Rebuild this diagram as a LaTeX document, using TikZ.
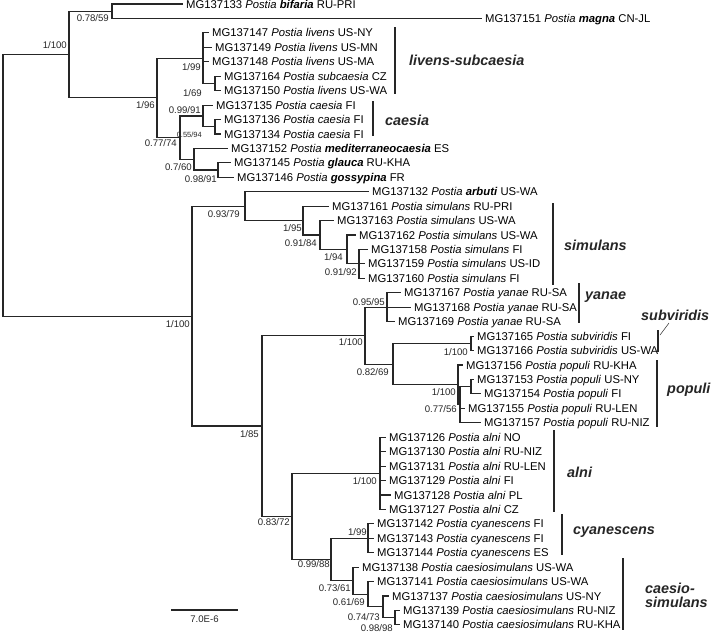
\documentclass[tikz,border=0pt]{standalone}
\usepackage{fontspec}
\setmainfont{Liberation Sans}
\usetikzlibrary{positioning}
\newcommand\leaffont{\fontsize{11.3}{13}\selectfont}
\newcommand\supfont{\fontsize{9.6}{11}\selectfont}
\newcommand\tinyfont{\fontsize{7.5}{9}\selectfont}
\newcommand\cladefont{\fontsize{14.4}{16}\selectfont\bfseries\itshape}
\newcommand\Po{\textit{Postia}}
\newcommand\spn[1]{\textit{#1}}
\newcommand\nspn[1]{\textbf{\textit{#1}}}
\tikzset{
  br/.style={line width=1.1pt,black!85},
  elbow/.style={to path={|- (\tikztotarget)}},
  leaf/.style={anchor=west,inner xsep=3pt,inner ysep=0pt,text height=10pt,text depth=2pt,font=\leaffont},
  sup/.style={anchor=east,inner sep=0pt,font=\supfont,black!85},
  clade/.style={anchor=west,inner sep=0pt,font=\cladefont,black!85},
  cbar/.style={line width=2.6pt,black!85},
}
\begin{document}
\begin{tikzpicture}[x=1pt,y=-1pt]
\useasboundingbox (0,0) rectangle (711,633);
% internal nodes
\coordinate (R) at (3,185.3);
\coordinate (T) at (69,54.5);
\coordinate (A) at (112,11.2);
\coordinate (B) at (157,97.9);
\coordinate (L) at (203,58.2);
\coordinate (L2) at (215,83.4);
\coordinate (C) at (180,137.6);
\coordinate (D) at (203,116);
\coordinate (D2) at (215,126.8);
\coordinate (E) at (194,159.2);
\coordinate (E2) at (218,170);
\coordinate (N100) at (192,316.1);
\coordinate (G) at (245,206.2);
\coordinate (S1) at (303,220.6);
\coordinate (S2) at (320,235);
\coordinate (S3) at (347,249.5);
\coordinate (S4) at (359,263.9);
\coordinate (N85) at (262,426);
\coordinate (YSP) at (365,335.7);
\coordinate (Y) at (387,307.2);
\coordinate (SP) at (393,364.2);
\coordinate (SV) at (471,343.4);
\coordinate (P1) at (458,384.9);
\coordinate (P2) at (460,404.7);
\coordinate (P3) at (471,386.7);
\coordinate (ALC) at (292,516.4);
\coordinate (AL) at (380,473.3);
\coordinate (CC) at (331,559.5);
\coordinate (CY) at (368,538.3);
\coordinate (CS1) at (353,580.7);
\coordinate (CS2) at (368,594.3);
\coordinate (CS3) at (383,606.9);
\coordinate (CS4) at (395,617.7);
% leaves
\node[leaf] (l133) at (183,4) {MG137133 \Po\ \nspn{bifaria} RU-PRI};
\node[leaf] (l151) at (482,18.4) {MG137151 \Po\ \nspn{magna} CN-JL};
\node[leaf] (l147) at (209,32.9) {MG137147 \Po\ \spn{livens} US-NY};
\node[leaf] (l149) at (212,47.3) {MG137149 \Po\ \spn{livens} US-MN};
\node[leaf] (l148) at (209,61.8) {MG137148 \Po\ \spn{livens} US-MA};
\node[leaf] (l164) at (221,76.2) {MG137164 \Po\ \spn{subcaesia} CZ};
\node[leaf] (l150) at (221,90.6) {MG137150 \Po\ \spn{livens} US-WA};
\node[leaf] (l135) at (213,105.1) {MG137135 \Po\ \spn{caesia} FI};
\node[leaf] (l136) at (221,119.5) {MG137136 \Po\ \spn{caesia} FI};
\node[leaf] (l134) at (221,134) {MG137134 \Po\ \spn{caesia} FI};
\node[leaf] (l152) at (228,148.4) {MG137152 \Po\ \nspn{mediterraneocaesia} ES};
\node[leaf] (l145) at (231,162.8) {MG137145 \Po\ \nspn{glauca} RU-KHA};
\node[leaf] (l146) at (234,177.3) {MG137146 \Po\ \nspn{gossypina} FR};
\node[leaf] (l132) at (369,191.7) {MG137132 \Po\ \nspn{arbuti} US-WA};
\node[leaf] (l161) at (329,206.2) {MG137161 \Po\ \spn{simulans} RU-PRI};
\node[leaf] (l163) at (334,220.6) {MG137163 \Po\ \spn{simulans} US-WA};
\node[leaf] (l162) at (356,235) {MG137162 \Po\ \spn{simulans} US-WA};
\node[leaf] (l158) at (368,249.5) {MG137158 \Po\ \spn{simulans} FI};
\node[leaf] (l159) at (365,263.9) {MG137159 \Po\ \spn{simulans} US-ID};
\node[leaf] (l160) at (365,278.4) {MG137160 \Po\ \spn{simulans} FI};
\node[leaf] (l167) at (401,292.8) {MG137167 \Po\ \spn{yanae} RU-SA};
\node[leaf] (l168) at (411,307.2) {MG137168 \Po\ \spn{yanae} RU-SA};
\node[leaf] (l169) at (395,321.7) {MG137169 \Po\ \spn{yanae} RU-SA};
\node[leaf] (l165) at (474,336.1) {MG137165 \Po\ \spn{subviridis} FI};
\node[leaf] (l166) at (474,350.6) {MG137166 \Po\ \spn{subviridis} US-WA};
\node[leaf] (l156) at (463,365) {MG137156 \Po\ \spn{populi} RU-KHA};
\node[leaf] (l153) at (474,379.4) {MG137153 \Po\ \spn{populi} US-NY};
\node[leaf] (l154) at (481,393.9) {MG137154 \Po\ \spn{populi} FI};
\node[leaf] (l155) at (465,408.3) {MG137155 \Po\ \spn{populi} RU-LEN};
\node[leaf] (l157) at (481,422.8) {MG137157 \Po\ \spn{populi} RU-NIZ};
\node[leaf] (l126) at (386,437.2) {MG137126 \Po\ \spn{alni} NO};
\node[leaf] (l130) at (386,451.6) {MG137130 \Po\ \spn{alni} RU-NIZ};
\node[leaf] (l131) at (386,466.1) {MG137131 \Po\ \spn{alni} RU-LEN};
\node[leaf] (l129) at (386,480.5) {MG137129 \Po\ \spn{alni} FI};
\node[leaf] (l128) at (391,495) {MG137128 \Po\ \spn{alni} PL};
\node[leaf] (l127) at (386,509.4) {MG137127 \Po\ \spn{alni} CZ};
\node[leaf] (l142) at (374,523.8) {MG137142 \Po\ \spn{cyanescens} FI};
\node[leaf] (l143) at (374,538.3) {MG137143 \Po\ \spn{cyanescens} FI};
\node[leaf] (l144) at (374,552.7) {MG137144 \Po\ \spn{cyanescens} ES};
\node[leaf] (l138) at (359,567.2) {MG137138 \Po\ \spn{caesiosimulans} US-WA};
\node[leaf] (l141) at (374,581.6) {MG137141 \Po\ \spn{caesiosimulans} US-WA};
\node[leaf] (l137) at (389,596) {MG137137 \Po\ \spn{caesiosimulans} US-NY};
\node[leaf] (l139) at (400,610.5) {MG137139 \Po\ \spn{caesiosimulans} RU-NIZ};
\node[leaf] (l140) at (400,624.9) {MG137140 \Po\ \spn{caesiosimulans} RU-KHA};
% branches
\path[br]
(R) edge[elbow] (T)
(R) edge[elbow] (N100)
(T) edge[elbow] (A)
(T) edge[elbow] (B)
(A) edge[elbow] (l133)
(A) edge[elbow] (l151)
(B) edge[elbow] (L)
(B) edge[elbow] (C)
(L) edge[elbow] (l147)
(L) edge[elbow] (l149)
(L) edge[elbow] (l148)
(L) edge[elbow] (L2)
(L2) edge[elbow] (l164)
(L2) edge[elbow] (l150)
(C) edge[elbow] (D)
(C) edge[elbow] (E)
(D) edge[elbow] (l135)
(D) edge[elbow] (D2)
(D2) edge[elbow] (l136)
(D2) edge[elbow] (l134)
(E) edge[elbow] (l152)
(E) edge[elbow] (E2)
(E2) edge[elbow] (l145)
(E2) edge[elbow] (l146)
(N100) edge[elbow] (G)
(N100) edge[elbow] (N85)
(G) edge[elbow] (l132)
(G) edge[elbow] (S1)
(S1) edge[elbow] (l161)
(S1) edge[elbow] (S2)
(S2) edge[elbow] (l163)
(S2) edge[elbow] (S3)
(S3) edge[elbow] (l162)
(S3) edge[elbow] (S4)
(S4) edge[elbow] (l158)
(S4) edge[elbow] (l159)
(S4) edge[elbow] (l160)
(N85) edge[elbow] (YSP)
(N85) edge[elbow] (ALC)
(YSP) edge[elbow] (Y)
(YSP) edge[elbow] (SP)
(Y) edge[elbow] (l167)
(Y) edge[elbow] (l168)
(Y) edge[elbow] (l169)
(SP) edge[elbow] (SV)
(SP) edge[elbow] (P1)
(SV) edge[elbow] (l165)
(SV) edge[elbow] (l166)
(P1) edge[elbow] (l156)
(P1) edge[elbow] (P2)
(P2) edge[elbow] (P3)
(P2) edge[elbow] (l155)
(P2) edge[elbow] (l157)
(P3) edge[elbow] (l153)
(P3) edge[elbow] (l154)
(ALC) edge[elbow] (AL)
(ALC) edge[elbow] (CC)
(AL) edge[elbow] (l126)
(AL) edge[elbow] (l130)
(AL) edge[elbow] (l131)
(AL) edge[elbow] (l129)
(AL) edge[elbow] (l128)
(AL) edge[elbow] (l127)
(CC) edge[elbow] (CY)
(CC) edge[elbow] (CS1)
(CY) edge[elbow] (l142)
(CY) edge[elbow] (l143)
(CY) edge[elbow] (l144)
(CS1) edge[elbow] (l138)
(CS1) edge[elbow] (CS2)
(CS2) edge[elbow] (l141)
(CS2) edge[elbow] (CS3)
(CS3) edge[elbow] (l137)
(CS3) edge[elbow] (CS4)
(CS4) edge[elbow] (l139)
(CS4) edge[elbow] (l140)
;
% support values
\node[sup] (sT) at (67,45) {1/100};
\node[sup] (sA) at (109,18) {0.78/59};
\node[sup] (sB) at (155,105) {1/96};
\node[sup] (sL) at (201,67) {1/99};
\node[sup] (sL2) at (202,93) {1/69};
\node[sup] (sD) at (201,110) {0.99/91};
\node[sup,font=\tinyfont] (sD2) at (202,135) {0.55/94};
\node[sup] (sC) at (177,143) {0.77/74};
\node[sup] (sE) at (192,167) {0.7/60};
\node[sup] (sE2) at (217,179) {0.98/91};
\node[sup] (sN100) at (190,324) {1/100};
\node[sup] (sG) at (240,214) {0.93/79};
\node[sup] (sS1) at (302,228) {1/95};
\node[sup] (sS2) at (317,243) {0.91/84};
\node[sup] (sS3) at (343,257) {1/94};
\node[sup] (sS4) at (357,272) {0.91/92};
\node[sup] (sN85) at (259,434) {1/85};
\node[sup] (sYSP) at (363,342) {1/100};
\node[sup] (sY) at (385,302) {0.95/95};
\node[sup] (sSP) at (389,372) {0.82/69};
\node[sup] (sSV) at (468,352) {1/100};
\node[sup] (sP1) at (456,392) {1/100};
\node[sup] (sP2) at (457,409) {0.77/56};
\node[sup] (sAL) at (377,481) {1/100};
\node[sup] (sALC) at (290,522) {0.83/72};
\node[sup] (sCC) at (330,564) {0.99/88};
\node[sup] (sCY) at (367,532) {1/99};
\node[sup] (sCS1) at (351,588) {0.73/61};
\node[sup] (sCS2) at (365,602) {0.61/69};
\node[sup] (sCS3) at (380,617) {0.74/73};
\node[sup] (sCS4) at (393,628) {0.98/98};
% clade bars and names
\draw[cbar] (395,27) -- (395,94);
\node[clade] (livens) at (409,60) {livens-subcaesia};
\draw[cbar] (373,101) -- (373,136);
\node[clade] (caesia) at (385,120) {caesia};
\draw[cbar] (553,203) -- (553,285);
\node[clade] (simulans) at (564,245) {simulans};
\draw[cbar] (579,283) -- (579,323);
\node[clade] (yanae) at (585,297) {yanae};
\draw[cbar] (658,330) -- (658,352);
\coordinate (subvbar) at (660,335);
\node[clade] (subviridis) at (641,315) {subviridis};
\coordinate (subvtip) at (669,323);
\draw[br,line width=0.5pt] (subvtip) -- (subvbar);
\draw[cbar] (657,360) -- (657,427);
\node[clade] (populi) at (667,390) {populi};
\draw[cbar] (554,430) -- (554,512);
\node[clade] (alni) at (567,472) {alni};
\draw[cbar] (562,514) -- (562,555);
\node[clade] (cyanescens) at (573,532) {cyanescens};
\draw[cbar] (623,558) -- (623,630);
\node[clade,align=left] (caesiosim) at (645,595) {caesio-\\[-2pt]simulans};
% scale bar
\coordinate (sb1) at (171,610);
\coordinate (sb2) at (238,610);
\draw[br] (sb1) -- (sb2) node[midway,below=5pt,font=\supfont,inner sep=0pt] (sblabel) {7.0E-6};
\end{tikzpicture}
\end{document}
